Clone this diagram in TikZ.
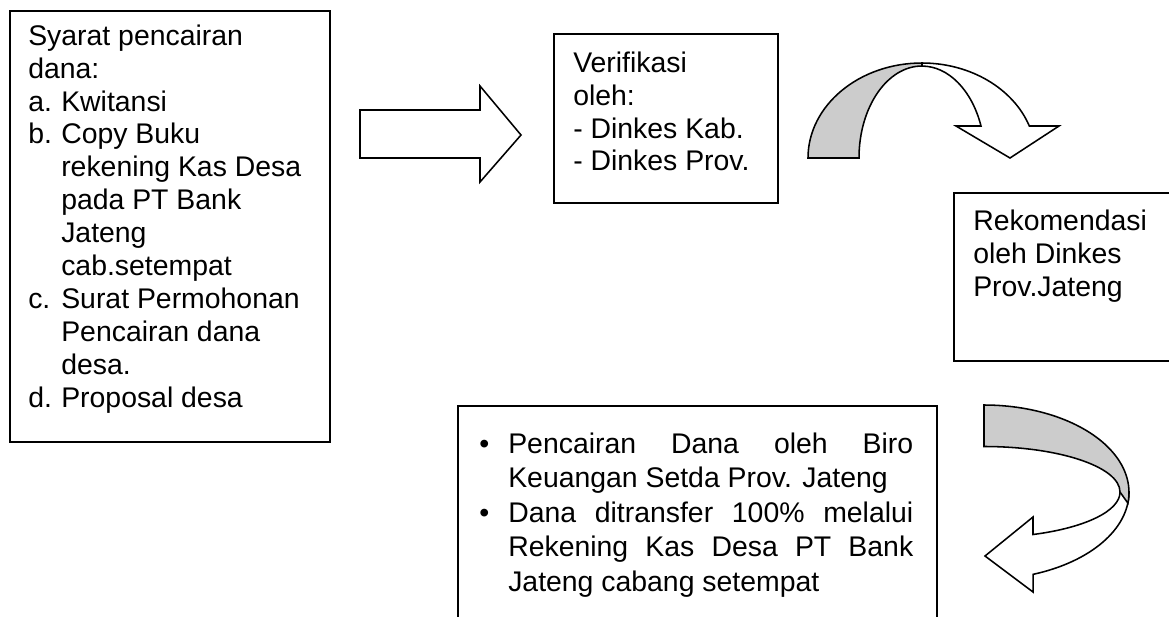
\documentclass[tikz,border=0pt]{standalone}
\usepackage{fontspec}
\setmainfont{Liberation Sans}
\newlength\px \setlength\px{0.25mm}
\newlength\hangw \setlength\hangw{8.25mm}
\newlength\bulw \setlength\bulw{7.25mm}
\newlength\justw \setlength\justw{101.25mm}
\newcommand\atas{\rule{0pt}{5.5mm}}

\begin{document}
\begin{tikzpicture}[x=0.25mm,y=0.25mm,
    kotak/.style={draw,line width=1.1pt,anchor=north west,inner sep=0pt},
    isi/.style={anchor=north west,align=left,inner sep=0pt,font=\fontsize{20.2}{23.4}\selectfont},
    panah/.style={draw,line width=1.1pt,line join=miter}]
  \clip (0,0) rectangle (1169,-616);

  \node[kotak,minimum width=320\px,minimum height=431\px] (syaratbox) at (9,-10) {};
  \node[kotak,minimum width=224\px,minimum height=169\px] (verifbox) at (553,-33) {};
  \node[kotak,minimum width=240\px,minimum height=168\px] (rekombox) at (953,-192) {};
  \node[kotak,minimum width=479\px,minimum height=230\px] (cairbox) at (457,-405) {};

  % teks, baris pertama diberi \atas
  \node[isi] (syarat) at ([shift={(19,-13)}]syaratbox.north west)
    {\atas Syarat pencairan\\
     dana:\\
     \makebox[\hangw][l]{a.}Kwitansi\\
     \makebox[\hangw][l]{b.}Copy Buku\\
     \hspace*{\hangw}rekening Kas Desa\\
     \hspace*{\hangw}pada PT Bank\\
     \hspace*{\hangw}Jateng\\
     \hspace*{\hangw}cab.setempat\\
     \makebox[\hangw][l]{c.}Surat Permohonan\\
     \hspace*{\hangw}Pencairan dana\\
     \hspace*{\hangw}desa.\\
     \makebox[\hangw][l]{d.}Proposal desa};
  \node[isi] (verif) at ([shift={(20,-17)}]verifbox.north west)
    {\atas Verifikasi\\ oleh:\\ - Dinkes Kab.\\ - Dinkes Prov.};
  \node[isi] (rekom) at ([shift={(20,-16)}]rekombox.north west)
    {\atas Rekomendasi\\ oleh Dinkes\\ Prov.Jateng};
  \node[isi,font=\fontsize{20.2}{24.5}\selectfont] (cair) at ([shift={(22,-26)}]cairbox.north west)
    {\atas\makebox[\bulw][l]{\textbullet}\makebox[\justw][s]{Pencairan Dana oleh Biro}\\
     \hspace*{\bulw}Keuangan Setda Prov. Jateng\\
     \makebox[\bulw][l]{\textbullet}\makebox[\justw][s]{Dana ditransfer 100\% melalui}\\
     \hspace*{\bulw}\makebox[\justw][s]{Rekening Kas Desa PT Bank}\\
     \hspace*{\bulw}Jateng cabang setempat};

  % panah lurus
  \draw[panah] (360,-110) -- (480,-110) -- (480,-86) -- (521,-135)
    -- (480,-182) -- (480,-158) -- (360,-158) -- cycle;

  % panah lengkung atas
  \draw[panah,fill=white] (922,-63) arc[start angle=90,end angle=19.7,x radius=114,y radius=95]
    -- (1059,-126) -- (1010,-158) -- (956,-126) -- (981,-126)
    arc[start angle=20.4,end angle=90,x radius=63,y radius=92] -- cycle;
  \draw[panah,fill=black!20] (808,-158) arc[start angle=180,end angle=90,x radius=114,y radius=95]
    -- (922,-66) arc[start angle=90,end angle=180,x radius=63,y radius=92] -- cycle;

  % panah lengkung bawah
  \draw[panah,fill=white] (1129,-492) arc[start angle=0,end angle=-70.2,x radius=145,y radius=87.5]
    -- (1033,-592) -- (985,-556) -- (1033,-517) -- (1033,-534.5)
    arc[start angle=-68.9,end angle=0,x radius=136,y radius=45.5] -- cycle;
  \draw[panah,fill=black!20] (984,-405) arc[start angle=90,end angle=-7,x radius=145,y radius=87.5]
    -- (1120,-492) arc[start angle=0,end angle=90,x radius=136,y radius=45.5] -- cycle;
\end{tikzpicture}
\end{document}
